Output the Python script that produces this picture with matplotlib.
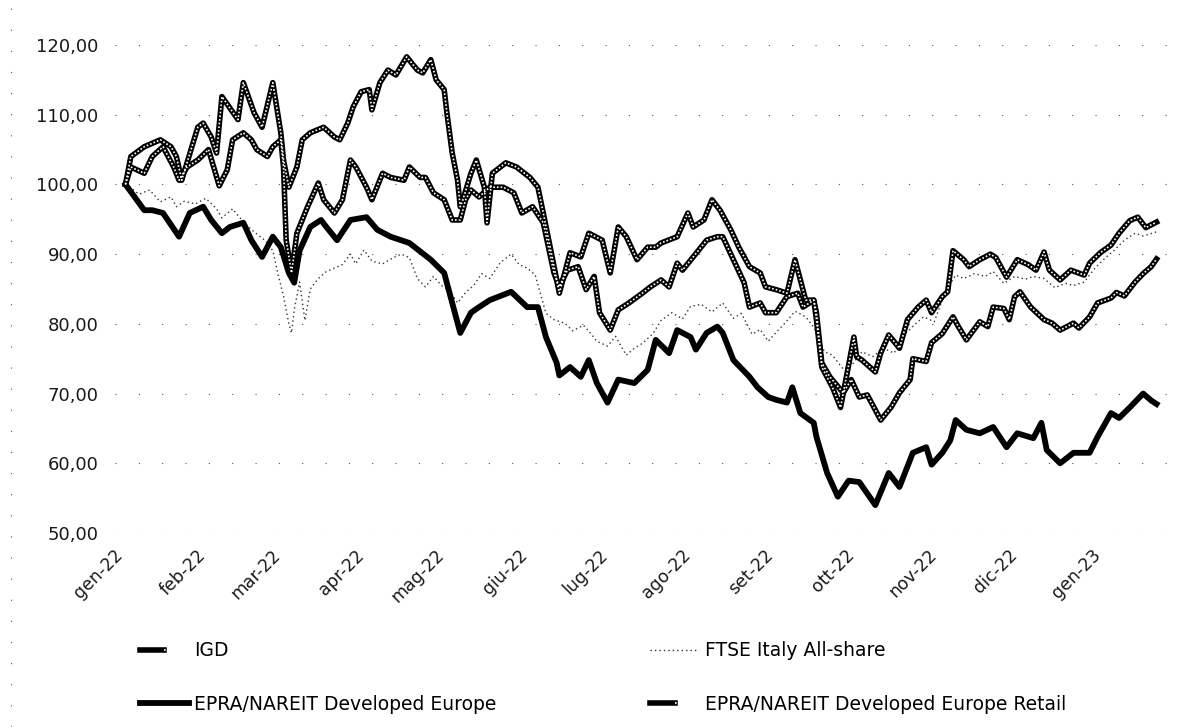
import matplotlib
matplotlib.use("Agg")
import matplotlib.pyplot as plt
import pandas as pd
from matplotlib.legend_handler import HandlerTuple
from matplotlib.ticker import FuncFormatter, MultipleLocator
from matplotlib.lines import Line2D

# index values (base 100), days counted from 1 Jan 2022
start = pd.Timestamp("2022-01-01")

month_labels = ["gen-22", "feb-22", "mar-22", "apr-22", "mag-22", "giu-22", "lug-22",
                "ago-22", "set-22", "ott-22", "nov-22", "dic-22", "gen-23"]

igd_day = [2, 4, 9, 15, 19, 21, 23, 26, 29, 31, 34, 36, 38, 44, 46, 50, 53, 57, 60, 61,
           63, 66, 68, 71, 76, 80, 82, 85, 87, 90, 93, 94, 97, 100, 103, 107, 111, 113, 116, 118,
           121, 122, 124, 126, 127, 128, 131, 133, 136, 137, 139, 144, 148, 153, 156, 158, 161, 164, 168, 172,
           175, 180, 183, 186, 189, 193, 197, 200, 202, 208, 212, 214, 218, 221, 224, 228, 231, 235, 239, 241,
           245, 249, 252, 254, 256, 259, 260, 262, 266, 269, 271, 274, 275, 277, 282, 284, 287, 291, 294, 298,
           301, 303, 307, 309, 311, 315, 317, 321, 325, 327, 331, 335, 339, 342, 345, 347, 351, 355, 360, 362,
           366, 370, 373, 377, 380, 383, 385, 387]
igd_val = [100.0, 104.0, 105.4, 106.4, 105.4, 104.0, 100.6, 104.4, 108.2, 108.8, 106.8, 104.5, 112.6, 109.3, 114.6, 110.3, 108.2, 114.6, 107.4, 103.5,
           99.6, 102.5, 106.4, 107.4, 108.2, 106.8, 106.4, 108.8, 111.1, 113.3, 113.6, 110.7, 114.6, 116.4, 115.7, 118.3, 116.4, 116.0, 117.9, 115.0,
           113.6, 110.3, 104.5, 100.6, 96.8, 97.8, 101.6, 103.5, 99.6, 94.5, 101.6, 103.1, 102.5, 101.0, 99.6, 95.9, 90.2, 84.4, 90.2, 89.6,
           93.0, 92.0, 87.3, 93.9, 92.5, 89.2, 91.0, 91.0, 91.6, 92.5, 95.9, 93.9, 94.9, 97.8, 96.3, 93.5, 91.0, 88.2, 87.3, 85.3,
           84.9, 84.4, 89.2, 86.3, 83.4, 83.4, 80.6, 73.8, 70.9, 68.0, 72.0, 78.1, 75.3, 74.8, 73.1, 75.8, 78.4, 76.5, 80.6, 82.4,
           83.4, 81.6, 83.9, 84.6, 90.5, 89.2, 88.2, 89.2, 90.0, 89.5, 86.7, 89.2, 88.5, 87.7, 90.3, 87.7, 86.3, 87.7, 87.0, 88.7,
           90.2, 91.3, 93.0, 94.8, 95.3, 93.8, 94.2, 94.6]

ftse_day = [2, 4, 7, 11, 15, 19, 21, 24, 28, 32, 36, 38, 42, 46, 50, 54, 57, 59, 61, 63,
            64, 65, 67, 69, 71, 74, 77, 80, 83, 86, 88, 91, 94, 98, 102, 105, 108, 111, 114, 117,
            120, 123, 126, 129, 132, 135, 138, 142, 146, 149, 152, 155, 159, 162, 166, 169, 173, 176, 178, 182,
            185, 189, 192, 195, 199, 202, 206, 210, 213, 217, 221, 225, 229, 232, 236, 239, 242, 245, 248, 252,
            256, 259, 263, 266, 270, 273, 277, 281, 285, 289, 293, 297, 300, 304, 308, 312, 315, 319, 323, 326,
            330, 334, 338, 341, 345, 349, 353, 356, 360, 364, 368, 371, 375, 379, 382, 387]
ftse_val = [100.0, 99.5, 98.6, 99.2, 97.5, 98.2, 96.8, 97.6, 97.2, 98.0, 96.5, 95.2, 96.5, 94.6, 93.2, 92.0, 90.5, 87.0, 84.0, 80.0,
            78.7, 82.0, 86.0, 80.5, 85.0, 86.5, 87.5, 88.0, 88.5, 90.0, 88.6, 90.6, 89.0, 88.6, 89.5, 90.0, 89.5, 86.5, 85.3, 86.8,
            85.5, 84.8, 83.0, 84.5, 85.5, 87.2, 86.5, 88.8, 90.0, 88.5, 88.0, 87.0, 81.5, 80.6, 80.1, 79.0, 79.8, 78.5, 77.5, 76.8,
            78.2, 75.5, 76.5, 77.2, 78.6, 80.5, 81.6, 80.7, 82.5, 82.8, 81.7, 83.0, 80.8, 81.5, 78.5, 79.2, 77.5, 78.8, 80.0, 81.8,
            81.0, 79.5, 76.0, 75.5, 73.5, 74.0, 76.0, 75.3, 76.5, 75.8, 78.5, 80.0, 81.0, 80.3, 84.5, 87.0, 86.5, 87.2, 86.8, 87.5,
            85.8, 86.8, 86.4, 86.8, 86.5, 85.2, 85.8, 85.5, 86.0, 88.0, 89.5, 90.5, 92.0, 93.0, 92.6, 93.2]

epra_day = [2, 9, 12, 16, 22, 26, 31, 34, 38, 41, 46, 49, 53, 57, 60, 63, 65, 67, 71, 75,
            77, 81, 86, 92, 96, 101, 108, 116, 121, 124, 127, 131, 134, 138, 146, 152, 156, 159, 163, 164,
            168, 172, 175, 178, 182, 186, 192, 197, 200, 205, 208, 213, 215, 219, 223, 225, 229, 235, 238, 242,
            245, 249, 251, 254, 259, 260, 264, 268, 272, 276, 282, 287, 291, 296, 301, 303, 307, 310, 312, 316,
            321, 326, 331, 335, 341, 344, 346, 351, 356, 362, 365, 370, 373, 377, 382, 385, 387]
epra_val = [100.0, 96.3, 96.3, 95.9, 92.5, 95.9, 96.8, 94.9, 93.0, 93.9, 94.5, 92.0, 89.6, 92.5, 91.0, 87.3, 85.9, 90.5, 93.9, 94.9,
            93.9, 92.0, 94.9, 95.3, 93.5, 92.5, 91.6, 89.2, 87.3, 83.0, 78.7, 81.6, 82.4, 83.4, 84.6, 82.4, 82.4, 78.1, 74.4, 72.6,
            73.8, 72.4, 74.8, 71.5, 68.7, 72.0, 71.5, 73.4, 77.7, 75.8, 79.1, 78.1, 76.3, 78.7, 79.6, 78.7, 74.8, 72.4, 70.9, 69.5,
            69.1, 68.7, 70.9, 67.2, 65.8, 63.8, 58.6, 55.2, 57.5, 57.3, 54.0, 58.6, 56.6, 61.5, 62.3, 59.8, 61.5, 63.3, 66.2, 64.8,
            64.3, 65.2, 62.3, 64.3, 63.6, 65.8, 61.9, 60.0, 61.5, 61.5, 63.8, 67.2, 66.5, 68.0, 70.0, 69.0, 68.5]

retail_day = [2, 4, 9, 12, 16, 20, 22, 25, 29, 33, 37, 40, 42, 46, 49, 51, 55, 57, 60, 61,
              62, 64, 66, 70, 74, 76, 80, 83, 86, 88, 92, 94, 98, 101, 106, 108, 112, 114, 117, 121,
              124, 127, 129, 131, 134, 138, 143, 147, 150, 154, 158, 162, 164, 167, 171, 174, 177, 179, 183, 186,
              190, 195, 198, 202, 205, 208, 210, 214, 219, 223, 225, 229, 233, 235, 239, 241, 245, 249, 253, 255,
              259, 260, 262, 265, 270, 273, 276, 279, 284, 288, 291, 295, 296, 301, 303, 307, 311, 313, 316, 321,
              324, 326, 330, 332, 334, 336, 340, 345, 348, 351, 356, 358, 362, 365, 370, 372, 375, 379, 382, 385,
              387]
retail_val = [100.0, 102.5, 101.6, 104.0, 105.4, 102.5, 100.6, 102.5, 103.5, 105.0, 99.8, 102.1, 106.4, 107.4, 106.4, 105.0, 104.0, 105.4, 106.4, 102.5,
              92.0, 87.3, 93.0, 96.8, 100.2, 97.8, 95.9, 97.8, 103.5, 102.5, 99.6, 97.8, 101.6, 101.0, 100.6, 102.5, 101.0, 101.0, 98.8, 97.8,
              94.9, 94.9, 97.8, 99.2, 98.2, 99.6, 99.6, 98.8, 95.9, 96.8, 94.5, 87.3, 85.3, 87.7, 88.2, 84.9, 86.8, 81.6, 79.1, 82.0,
              83.0, 84.4, 85.3, 86.3, 85.3, 88.7, 87.7, 89.6, 92.0, 92.5, 92.5, 89.2, 85.9, 82.4, 83.0, 81.6, 81.6, 83.9, 84.4, 82.4,
              83.4, 81.6, 74.4, 72.4, 70.1, 72.0, 69.5, 69.8, 66.2, 68.1, 70.1, 72.0, 75.0, 74.6, 77.3, 78.6, 81.0, 79.6, 77.7, 80.3,
              79.6, 82.4, 82.2, 80.6, 83.9, 84.6, 82.4, 80.6, 80.1, 79.1, 80.1, 79.4, 81.0, 83.0, 83.7, 84.5, 84.0, 86.0, 87.2, 88.2,
              89.3]


def to_dates(days):
    return start + pd.to_timedelta(days, unit="D")


fig = plt.figure(figsize=(11.96, 7.27), dpi=100)
ax = fig.add_axes([0.0962, 0.2669, 0.882, 0.6712])

# hollow lines: black body with a dotted white core
igd_out, = ax.plot(to_dates(igd_day), igd_val, color="black", lw=4.0, solid_joinstyle="round", zorder=3)
igd_in, = ax.plot(to_dates(igd_day), igd_val, color="white", lw=1.2, ls=(0, (1, 1.2)), zorder=4)
ftse_line, = ax.plot(to_dates(ftse_day), ftse_val, color="#333333", lw=1.0, ls=(0, (1, 2.2)), zorder=2)
epra_line, = ax.plot(to_dates(epra_day), epra_val, color="black", lw=4.2, solid_joinstyle="round", zorder=3)
ret_out, = ax.plot(to_dates(retail_day), retail_val, color="black", lw=4.0, solid_joinstyle="round", zorder=3)
ret_in, = ax.plot(to_dates(retail_day), retail_val, color="white", lw=1.2, ls=(0, (1, 1.2)), zorder=4)

ax.set_ylim(50, 120)
ax.set_xlim(start - pd.Timedelta(days=1.9), start + pd.Timedelta(days=392))
ax.yaxis.set_major_locator(MultipleLocator(10))
ax.yaxis.set_major_formatter(FuncFormatter(lambda v, p: f"{v:.2f}".replace(".", ",")))

ticks = pd.date_range("2022-01-01", periods=len(month_labels), freq="MS")
ax.set_xticks(ticks)
ax.set_xticklabels(month_labels)

for s in ax.spines.values():
    s.set_visible(False)
ax.grid(axis="y", color="#555555", lw=0.8, ls=(0, (1, 20)))
ax.tick_params(axis="y", length=0, pad=12, labelsize=13, labelcolor="#1a1a1a")
ax.tick_params(axis="x", length=0, pad=14, labelsize=12.5, labelcolor="#1a1a1a")
for lab in ax.get_xticklabels():
    lab.set_rotation(45)
    lab.set_ha("right")
    lab.set_va("center")
    lab.set_rotation_mode("anchor")

handles = [(igd_out, igd_in), epra_line, ftse_line, (ret_out, ret_in)]
labels = ["IGD", "EPRA/NAREIT Developed Europe", "FTSE Italy All-share",
          "EPRA/NAREIT Developed Europe Retail"]
fig.legend(handles, labels, ncol=2, loc="upper left", bbox_to_anchor=(0.117, 0.118),
           frameon=False, fontsize=13.5, handlelength=2.6, handletextpad=0.3,
           columnspacing=8.2, labelspacing=1.85, borderpad=0, borderaxespad=0,
           handler_map={tuple: HandlerTuple(ndivide=None, pad=0)})

# faint dotted border along the left edge
fig.add_artist(Line2D([0.009, 0.009], [0.0, 0.99], transform=fig.transFigure,
                      color="#555555", lw=0.8, ls=(0, (1, 18))))

fig.savefig("out.png", dpi=100)
